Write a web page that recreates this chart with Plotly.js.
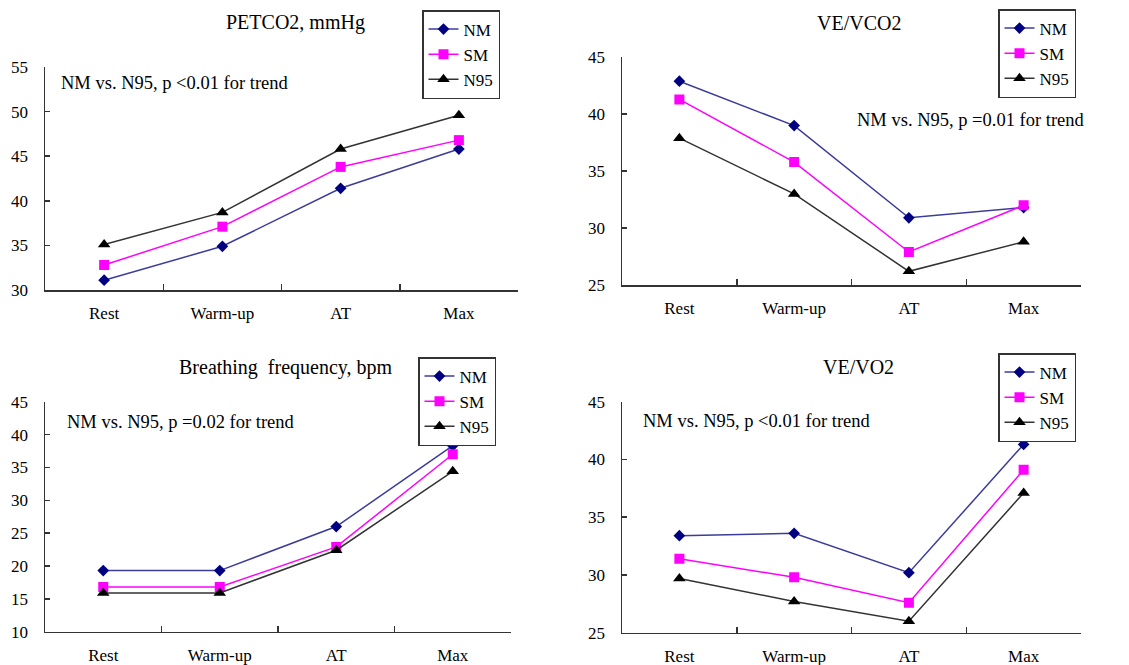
<!DOCTYPE html>
<html>
<head>
<meta charset="utf-8">
<script src="https://cdn.plot.ly/plotly-3.0.1.min.js"></script>
<style>html,body{margin:0;padding:0;background:#fff}#chart{width:1129px;height:665px}</style>
</head>
<body>
<div id="chart"></div>
<script>
var categories = ["Rest", "Warm-up", "AT", "Max"];
var seriesNames = ["NM", "SM", "N95"];

var petco2_NM  = [31.1, 34.9, 41.4, 45.8];
var petco2_SM  = [32.8, 37.1, 43.8, 46.8];
var petco2_N95 = [35.1, 38.7, 45.8, 49.6];

var vevco2_NM  = [42.9, 39.0, 30.9, 31.8];
var vevco2_SM  = [41.3, 35.8, 27.9, 32.0];
var vevco2_N95 = [37.9, 33.0, 26.2, 28.8];

var bf_NM  = [19.3, 19.3, 26.0, 38.3];
var bf_SM  = [16.8, 16.8, 22.9, 37.0];
var bf_N95 = [15.9, 15.9, 22.4, 34.4];

var vevo2_NM  = [33.4, 33.6, 30.2, 41.3];
var vevo2_SM  = [31.4, 29.8, 27.6, 39.1];
var vevo2_N95 = [29.7, 27.7, 26.0, 37.1];

var titles = ["PETCO2, mmHg", "VE/VCO2", "Breathing  frequency, bpm", "VE/VO2"];
var notes = ["NM vs. N95, p &lt;0.01 for trend", "NM vs. N95, p =0.01 for trend",
             "NM vs. N95, p =0.02 for trend", "NM vs. N95, p &lt;0.01 for trend"];
var yRanges = [[30, 55], [25, 45], [10, 45], [25, 45]];
var yDtick = [5, 5, 5, 5];

var panels = [
  [petco2_NM, petco2_SM, petco2_N95],
  [vevco2_NM, vevco2_SM, vevco2_N95],
  [bf_NM, bf_SM, bf_N95],
  [vevo2_NM, vevo2_SM, vevo2_N95]
];

var W = 1129, H = 665;
function px(x) { return x / W; }
function py(y) { return 1 - y / H; }

// pixel boxes for each panel: [x0, x1, yTop, yBottom]
var boxes = [
  [45, 518, 67, 290],
  [622, 1081, 57.3, 285],
  [45, 511, 401.7, 631.7],
  [622, 1081, 401.7, 632.7]
];
var legendPos = [[422, 10], [998, 9], [418, 357], [998, 353]];
var titlePos = [[295, 23], [859, 23], [286, 367], [858, 367]];
var notePos = [[59, 83], [855, 120], [65, 422], [641, 421]];

var styles = [
  {line: {color: "#3c3c9c", width: 1.5}, marker: {symbol: "diamond", size: 9, color: "#000080"}},
  {line: {color: "#ff00ff", width: 1.5}, marker: {symbol: "square", size: 10, color: "#ff00ff"}},
  {line: {color: "#333333", width: 1.5}, marker: {symbol: "triangle-up", size: 11, color: "#000000"}}
];

var FONT = "'Liberation Serif', 'Times New Roman', serif";
var traces = [];
var layout = {
  width: W, height: H,
  margin: {l: 0, r: 0, t: 0, b: 0},
  paper_bgcolor: "#fff", plot_bgcolor: "#fff",
  font: {family: FONT, size: 17, color: "#000"},
  annotations: [],
  showlegend: true
};

panels.forEach(function (pan, i) {
  var n = i + 1;
  var xa = n === 1 ? "x" : "x" + n;
  var ya = n === 1 ? "y" : "y" + n;
  var lg = n === 1 ? "legend" : "legend" + n;
  pan.forEach(function (vals, s) {
    traces.push({
      type: "scatter", mode: "lines+markers",
      x: categories, y: vals, name: seriesNames[s],
      xaxis: xa, yaxis: ya, legend: lg,
      line: styles[s].line, marker: styles[s].marker,
      hoverinfo: "x+y+name"
    });
  });
  var b = boxes[i];
  layout["xaxis" + (n === 1 ? "" : n)] = {
    domain: [px(b[0]), px(b[1])],
    anchor: ya, type: "category", range: [-0.5, 3.5],
    tickson: "boundaries", ticks: "inside", ticklen: 6, tickwidth: 1.5, tickcolor: "#333",
    ticklabelstandoff: 7,
    showline: true, linecolor: "#333", linewidth: 1.5, showgrid: false, zeroline: false,
    tickfont: {family: FONT, size: 17, color: "#000"}, fixedrange: true
  };
  layout["yaxis" + (n === 1 ? "" : n)] = {
    domain: [py(b[3]), py(b[2])],
    anchor: xa, range: yRanges[i], dtick: yDtick[i], tick0: 0,
    ticks: "inside", ticklen: 5, tickwidth: 1.5, tickcolor: "#333",
    ticklabelstandoff: 12,
    showline: true, linecolor: "#333", linewidth: 1.5, showgrid: false, zeroline: false,
    tickfont: {family: FONT, size: 17, color: "#000"}, fixedrange: true
  };
  layout[lg] = {
    x: px(legendPos[i][0]), y: py(legendPos[i][1]), xanchor: "left", yanchor: "top",
    xref: "paper", yref: "paper",
    bgcolor: "#fff", bordercolor: "#333", borderwidth: 1.5,
    font: {family: FONT, size: 17, color: "#000"},
    itemwidth: 30, tracegroupgap: 0
  };
  layout.annotations.push({
    xref: "paper", yref: "paper", x: px(titlePos[i][0]), y: py(titlePos[i][1]),
    xanchor: "center", yanchor: "middle", showarrow: false,
    text: titles[i], font: {family: FONT, size: 20, color: "#000"}
  });
  layout.annotations.push({
    xref: "paper", yref: "paper", x: px(notePos[i][0]), y: py(notePos[i][1]),
    xanchor: "left", yanchor: "middle", showarrow: false,
    text: notes[i], font: {family: FONT, size: 18.5, color: "#000"}
  });
});

Plotly.newPlot("chart", traces, layout, {displayModeBar: false, staticPlot: true});
</script>
</body>
</html>
